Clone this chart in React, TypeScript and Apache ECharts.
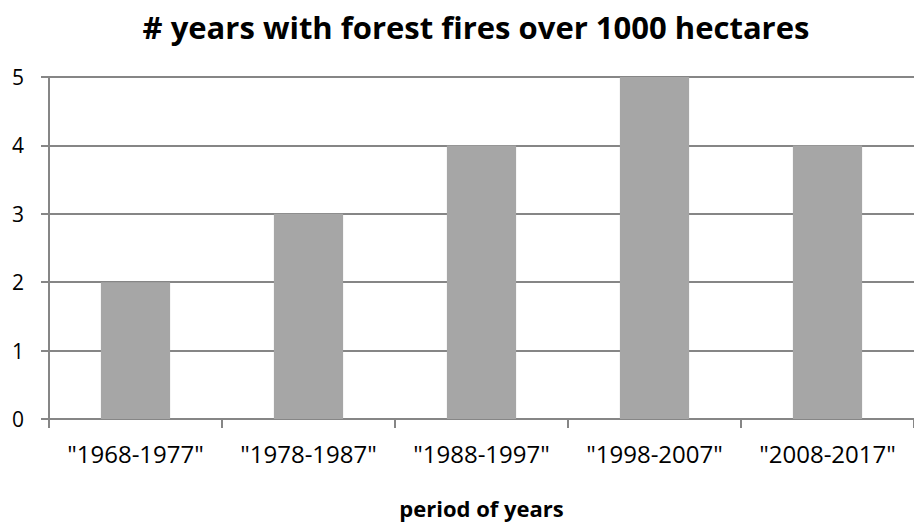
import React, { useEffect, useRef } from "react";
import * as echarts from "echarts";

const categories = ['"1968-1977"', '"1978-1987"', '"1988-1997"', '"1998-2007"', '"2008-2017"'];
const values = [2, 3, 4, 5, 4];
const titleText = "# years with forest fires over 1000 hectares";
const xName = "period of years";

export default function App() {
  const ref = useRef<HTMLDivElement>(null);
  useEffect(() => {
    const chart = echarts.init(ref.current!, null, { renderer: "svg" });
    const font = "'Open Sans', sans-serif";
    chart.setOption({
      animation: false,
      backgroundColor: "#ffffff",
      graphic: [
        {
          type: "text",
          x: 476,
          y: 27,
          style: {
            text: titleText,
            textAlign: "center",
            textVerticalAlign: "middle",
            fontFamily: font,
            fontWeight: "bold",
            fontSize: 31,
            fill: "#000",
          },
        },
      ],
      grid: { left: 49, top: 77, width: 874, height: 357, containLabel: false },
      xAxis: {
        type: "category",
        data: categories,
        name: xName,
        nameLocation: "middle",
        nameGap: 78,
        nameTextStyle: { fontFamily: font, fontWeight: "bold", fontSize: 22, color: "#000" },
        axisLine: { lineStyle: { color: "#868686", width: 2 } },
        axisTick: { show: true, length: 9, lineStyle: { color: "#868686", width: 2 } },
        axisLabel: { interval: 0, fontFamily: font, fontSize: 24, color: "#000", margin: 22 },
      },
      yAxis: {
        type: "value",
        min: 0,
        max: 5,
        interval: 1,
        axisLine: { show: true, lineStyle: { color: "#868686", width: 2 } },
        axisTick: { show: true, length: 8, lineStyle: { color: "#868686", width: 2 } },
        axisLabel: { fontFamily: font, fontSize: 21, color: "#000", margin: 25 },
        splitLine: { lineStyle: { color: "#868686", width: 2 } },
      },
      series: [
        {
          type: "bar",
          data: values,
          barWidth: "40%",
          itemStyle: { color: "#a6a6a6" },
        },
      ],
    });
    return () => chart.dispose();
  }, []);
  return <div ref={ref} style={{ position: "fixed", left: 0, top: 0, width: 914, height: 524 }} />;
}
